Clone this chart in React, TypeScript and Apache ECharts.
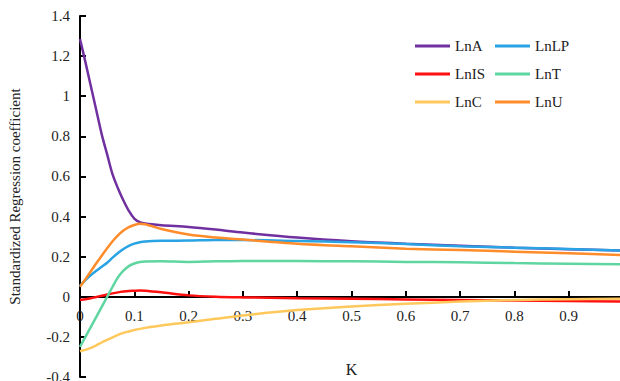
import React, { useEffect, useRef } from "react";
import * as echarts from "echarts";

const K = [0, 0.01, 0.02, 0.03, 0.04, 0.05, 0.06, 0.07, 0.08, 0.09, 0.1, 0.11, 0.12, 0.15, 0.2, 0.25, 0.3, 0.4, 0.5, 0.6, 0.7, 0.8, 0.9, 1.0];

const LnA = [1.285, 1.17, 1.05, 0.93, 0.81, 0.71, 0.61, 0.54, 0.48, 0.428, 0.39, 0.372, 0.365, 0.357, 0.348, 0.335, 0.32, 0.295, 0.277, 0.265, 0.255, 0.245, 0.237, 0.23];
const LnLP = [0.055, 0.083, 0.108, 0.13, 0.15, 0.17, 0.195, 0.218, 0.238, 0.254, 0.265, 0.272, 0.276, 0.279, 0.28, 0.283, 0.283, 0.278, 0.272, 0.263, 0.252, 0.245, 0.238, 0.23];
const LnIS = [-0.016, -0.012, -0.007, -0.001, 0.005, 0.011, 0.017, 0.022, 0.026, 0.029, 0.03, 0.031, 0.03, 0.022, 0.007, 0.0, -0.003, -0.007, -0.01, -0.013, -0.016, -0.019, -0.021, -0.024];
const LnT = [-0.25, -0.2, -0.15, -0.1, -0.05, 0.0, 0.05, 0.097, 0.13, 0.153, 0.166, 0.173, 0.176, 0.177, 0.174, 0.177, 0.178, 0.178, 0.177, 0.174, 0.172, 0.168, 0.165, 0.162];
const LnC = [-0.272, -0.265, -0.255, -0.242, -0.228, -0.215, -0.202, -0.19, -0.18, -0.173, -0.166, -0.16, -0.155, -0.143, -0.127, -0.11, -0.093, -0.066, -0.048, -0.035, -0.024, -0.016, -0.012, -0.01];
const LnU = [0.05, 0.088, 0.127, 0.167, 0.205, 0.242, 0.277, 0.306, 0.33, 0.347, 0.358, 0.364, 0.362, 0.338, 0.31, 0.295, 0.285, 0.265, 0.252, 0.24, 0.233, 0.225, 0.217, 0.208];

const SERIES_NAMES = ["LnA", "LnLP", "LnIS", "LnT", "LnC", "LnU"];
const SERIES_VALUES = [LnA, LnLP, LnIS, LnT, LnC, LnU];
const COLORS = ["#7030A0", "#29A3E3", "#FF1010", "#5FD6A0", "#FFC85C", "#FF8C2A"];

const FONT = "'Liberation Serif', 'Times New Roman', serif";

export default function App() {
  const ref = useRef<HTMLDivElement>(null);
  useEffect(() => {
    if (!ref.current) return;
    const chart = echarts.init(ref.current, undefined, { renderer: "svg" });
    const series = SERIES_NAMES.map((name, i) => ({
      name,
      type: "line",
      data: K.map((k, j) => [k, SERIES_VALUES[i][j]]),
      smooth: 0.3,
      showSymbol: false,
      symbol: "none",
      lineStyle: { color: COLORS[i], width: 2.5 },
      itemStyle: { color: COLORS[i] },
      z: 3,
    }));
    const legendCommon = {
      orient: "vertical",
      top: 38,
      padding: 0,
      icon: "rect",
      itemWidth: 35,
      itemHeight: 3,
      itemGap: 12,
      textStyle: { fontFamily: FONT, fontSize: 15, color: "#222", lineHeight: 16 },
    };
    chart.setOption({
      animation: false,
      backgroundColor: "#fff",
      grid: { left: 80, right: -3, top: 16, bottom: 4, containLabel: false, outerBoundsMode: "none" },
      legend: [
        { ...legendCommon, left: 415, data: ["LnA", "LnIS", "LnC"] },
        { ...legendCommon, left: 495, data: ["LnLP", "LnT", "LnU"] },
      ],
      xAxis: {
        type: "value",
        min: 0,
        max: 1,
        interval: 0.1,
        offset: -80,
        name: "K",
        nameLocation: "middle",
        nameGap: 64,
        nameTextStyle: { fontFamily: FONT, fontSize: 16, color: "#222" },
        axisLine: { onZero: false, lineStyle: { color: "#000", width: 2 } },
        axisTick: { inside: true, length: 6, lineStyle: { color: "#000", width: 2 } },
        axisLabel: {
          fontFamily: FONT,
          fontSize: 15,
          color: "#222",
          margin: 11,
          formatter: (v: number) => (v >= 1 ? "" : String(Math.round(v * 10) / 10)),
        },
        splitLine: { show: false },
      },
      yAxis: {
        type: "value",
        min: -0.4,
        max: 1.4,
        interval: 0.2,
        name: "Standardized Regression coefficient",
        nameLocation: "middle",
        nameGap: 58,
        nameTextStyle: { fontFamily: FONT, fontSize: 15, color: "#222" },
        axisLine: { show: true, onZero: false, lineStyle: { color: "#000", width: 2 } },
        axisTick: { show: true, inside: true, length: 6, lineStyle: { color: "#000", width: 2 } },
        axisLabel: {
          fontFamily: FONT,
          fontSize: 15,
          color: "#222",
          margin: 10,
          formatter: (v: number) => String(Math.round(v * 10) / 10),
        },
        splitLine: { show: false },
      },
      series,
    });
    return () => chart.dispose();
  }, []);
  return (
    <div
      ref={ref}
      style={{ position: "fixed", left: 0, top: 0, width: 620, height: 381, background: "#fff" }}
    />
  );
}
